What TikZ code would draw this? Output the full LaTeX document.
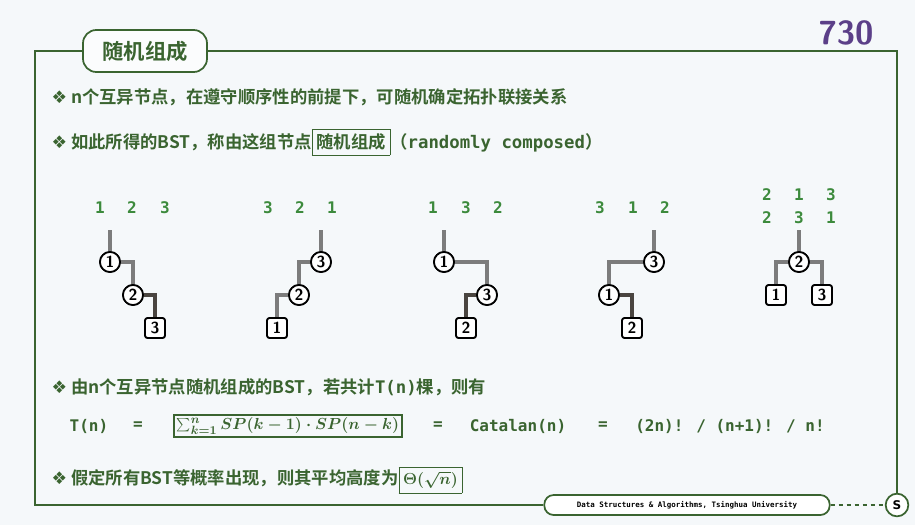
\documentclass[tikz,border=0pt]{standalone}
\usepackage{fontspec}
\setmainfont{DejaVu Sans}
\newfontfamily\cjk{Noto Sans CJK SC}[BoldFont={* Bold}]
\newfontfamily\mono{DejaVu Sans Mono}
\newfontfamily\sym{DejaVu Sans}
\newsavebox\mysumbox
\newsavebox\mythetabox
\definecolor{dg}{HTML}{3A6430}
\definecolor{tg}{HTML}{3C8A3C}
\definecolor{bg}{HTML}{F5F8FA}
\definecolor{pp}{HTML}{5B3F88}
\definecolor{eg}{HTML}{7C7C7C}
\definecolor{ed}{HTML}{4A4540}
\tikzset{
 cnode/.style={circle,draw=black,line width=1.3pt,fill=white,inner sep=0pt,minimum size=15pt,font=\sffamily\bfseries\fontsize{12}{12}\selectfont},
 snode/.style={rectangle,rounded corners=2pt,draw=black,line width=1.3pt,fill=white,inner sep=0pt,minimum size=15pt,font=\sffamily\bfseries\fontsize{12}{12}\selectfont},
 edge1/.style={draw=eg,line width=2.6pt},
 edge2/.style={draw=ed,line width=2.6pt},
 lab/.style={text=tg,font=\mono\bfseries\fontsize{12}{12}\selectfont},
 txtline/.style={anchor=west,text=dg,font=\cjk\bfseries\fontsize{13}{13}\selectfont},
 frm/.style={draw=dg,line width=1.3pt},
 ftxt/.style={text=dg,font=\mono\bfseries\fontsize{12}{12}\selectfont},
}
\begin{document}
\sbox\mysumbox{\color{dg}\fontsize{13}{13}\selectfont\boldmath$\sum_{k=1}^{n} SP(k-1)\cdot SP(n-k)$}%
\sbox\mythetabox{\color{dg}\fontsize{13}{13}\selectfont\boldmath$\Theta(\sqrt{n})$}%
\begin{tikzpicture}[x=0.75pt,y=-0.75pt]
\useasboundingbox (0,0) rectangle (915,525);
\fill[bg] (0,0) rectangle (915,525);
% frame
\node[frm,rounded corners=10pt,fill=white!60!bg,inner sep=0pt,text=dg,font=\cjk\bfseries\fontsize{16}{16}\selectfont,minimum height=31.5pt,minimum width=93pt] (title) at (145,51) {随机组成};
\node[frm,rounded corners=7pt,fill=white,inner sep=0pt,minimum height=15pt,minimum width=214pt,font=\mono\bfseries\fontsize{5.6}{6}\selectfont] (foot) at (687,505) {Data Structures \& Algorithms, Tsinghua University};
\node[frm,circle,fill=white,minimum size=17pt,inner sep=0pt,font=\bfseries\fontsize{9}{9}\selectfont] (logo) at (897,505) {S};
\coordinate (tl) at (35,51);
\coordinate (tr) at (897,51);
\coordinate (bl) at (35,505);
\draw[frm] (title.west) -- (tl) -- (bl) -- (foot.west);
\draw[frm] (title.east) -- (tr) -- (logo.north);
\draw[frm,dashed] (foot.east) -- (logo.west);
\node[text=pp,font=\sffamily\bfseries\fontsize{25}{25}\selectfont] (num) at (846,33) {730};
% lines
\node[txtline] (l1) at (47,97) {{\sym ❖} n个互异节点，在遵守顺序性的前提下，可随机确定拓扑联接关系};
\node[txtline] (l2) at (47,142) {{\sym ❖} 如此所得的BST，称由这组节点\fbox{\rule[-2pt]{0pt}{12pt}随机组成}（{\mono randomly composed}）};
\node[txtline] (l3) at (47,387) {{\sym ❖} 由n个互异节点随机组成的BST，若共计{\mono T(n)}棵，则有};
\node[txtline] (l4) at (47,480) {{\sym ❖} 假定所有BST等概率出现，则其平均高度为\fbox{\usebox\mythetabox}};
\node[ftxt] (f1) at (89,426) {T(n)};
\node[ftxt] (f2) at (138,426) {=};
\node[draw=dg,very thick,inner sep=2pt] (f3) at (288,426) {\usebox\mysumbox};
\node[ftxt] (f4) at (438,426) {=};
\node[ftxt] (f5) at (518,426) {Catalan(n)};
\node[ftxt] (f6) at (603,426) {=};
\node[ftxt] (f7) at (730,426) {(2n)! / (n+1)! / n!};
% tree 1
\node[lab] at (100,208) {1}; \node[lab] at (132,208) {2}; \node[lab] at (165,208) {3};
\coordinate (t1) at (110,230);
\node[cnode] (a1) at (110,262) {1};
\node[cnode] (a2) at (133,295) {2};
\node[snode] (a3) at (155,328) {3};
\draw[edge1] (t1) -- (a1);
\draw[edge1] (a1) -| (a2);
\draw[edge2] (a2) -| (a3);
\node[cnode] at (110,262) {1};\node[cnode] at (133,295) {2};\node[snode] at (155,328) {3};
% tree 2
\node[lab] at (268,208) {3}; \node[lab] at (300,208) {2}; \node[lab] at (332,208) {1};
\coordinate (t2) at (321,230);
\node[cnode] (b3) at (321,262) {3};
\node[cnode] (b2) at (299,295) {2};
\node[snode] (b1) at (277,328) {1};
\draw[edge1] (t2) -- (b3);
\draw[edge1] (b3) -| (b2);
\draw[edge1] (b2) -| (b1);
\node[cnode] at (321,262) {3};\node[cnode] at (299,295) {2};\node[snode] at (277,328) {1};
% tree 3
\node[lab] at (433,208) {1}; \node[lab] at (466,208) {3}; \node[lab] at (498,208) {2};
\coordinate (t3) at (444,230);
\node[cnode] (c1) at (444,262) {1};
\node[cnode] (c3) at (487,295) {3};
\node[snode] (c2) at (466,328) {2};
\draw[edge1] (t3) -- (c1);
\draw[edge1] (c1) -| (c3);
\draw[edge2] (c3) -| (c2);
\node[cnode] at (444,262) {1};\node[cnode] at (487,295) {3};\node[snode] at (466,328) {2};
% tree 4
\node[lab] at (600,208) {3}; \node[lab] at (633,208) {1}; \node[lab] at (665,208) {2};
\coordinate (t4) at (654,230);
\node[cnode] (d3) at (654,262) {3};
\node[cnode] (d1) at (609,295) {1};
\node[snode] (d2) at (632,328) {2};
\draw[edge1] (t4) -- (d3);
\draw[edge1] (d3) -| (d1);
\draw[edge2] (d1) -| (d2);
\node[cnode] at (654,262) {3};\node[cnode] at (609,295) {1};\node[snode] at (632,328) {2};
% tree 5
\node[lab] at (767,195) {2}; \node[lab] at (799,195) {1}; \node[lab] at (831,195) {3};
\node[lab] at (767,218) {2}; \node[lab] at (799,218) {3}; \node[lab] at (831,218) {1};
\coordinate (t5) at (799,230);
\node[cnode] (e2) at (799,262) {2};
\node[snode] (e1) at (776,295) {1};
\node[snode] (e3) at (822,295) {3};
\draw[edge1] (t5) -- (e2);
\draw[edge1] (e2) -| (e1);
\draw[edge1] (e2) -| (e3);
\node[cnode] at (799,262) {2};\node[snode] at (776,295) {1};\node[snode] at (822,295) {3};
\end{tikzpicture}
\end{document}
